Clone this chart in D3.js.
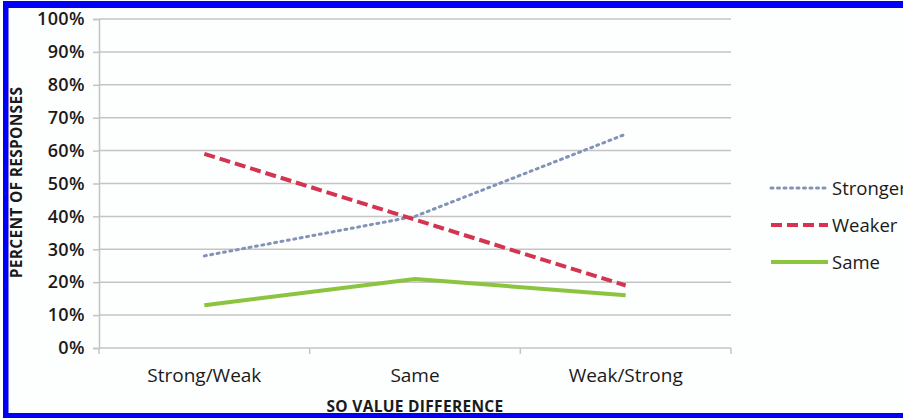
<!DOCTYPE html>
<html>
<head>
<meta charset="utf-8">
<script src="https://cdn.jsdelivr.net/npm/d3@7"></script>
<style>
  html, body { margin: 0; padding: 0; background: #fdfefe; }
  svg { display: block; }
  text { font-family: "Open Sans", "DejaVu Sans", sans-serif; fill: #1a1a1a; }
</style>
</head>
<body>
<svg id="chart" width="903" height="418"></svg>
<script>
// Response shares by SO value difference
const categories = ["Strong/Weak", "Same", "Weak/Strong"];
const stronger = [0.28, 0.40, 0.65];
const weaker = [0.59, 0.39, 0.19];
const same = [0.13, 0.21, 0.16];
const yTicks = [0, 0.1, 0.2, 0.3, 0.4, 0.5, 0.6, 0.7, 0.8, 0.9, 1.0];
const seriesNames = ["Stronger", "Weaker", "Same"];

const series = [
  { name: seriesNames[0], values: stronger, color: "#8393b8", width: 3, dash: "2,4.5", cap: "round" },
  { name: seriesNames[1], values: weaker, color: "#d3344f", width: 4, dash: "11,5", cap: "butt" },
  { name: seriesNames[2], values: same, color: "#8cc43f", width: 4, dash: null, cap: "butt" }
];

const svg = d3.select("#chart");
const W = 903, H = 418;
const plot = { left: 99, right: 731, top: 19, bottom: 348 };

// Frame
svg.append("rect").attr("x", 0).attr("y", 0).attr("width", W).attr("height", H).attr("fill", "#fdfefe");
svg.append("rect").attr("x", 3).attr("y", 1).attr("width", W - 3).attr("height", 7).attr("fill", "#0000f6");
svg.append("rect").attr("x", 3).attr("y", 1).attr("width", 5.5).attr("height", H - 1).attr("fill", "#0000f6");
svg.append("rect").attr("x", 3).attr("y", 413).attr("width", W - 3).attr("height", 5).attr("fill", "#0000f6");

const x = d3.scaleBand().domain(categories).range([plot.left, plot.right]).padding(0);
const y = d3.scaleLinear().domain([0, 1]).range([plot.bottom, plot.top]);

// Gridlines and y axis
const yAxis = d3.axisLeft(y).tickValues(yTicks).tickFormat(d3.format(".0%"))
  .tickSize(6).tickPadding(8);
const gy = svg.append("g").attr("transform", `translate(${plot.left},0)`).call(yAxis);
gy.select(".domain").attr("stroke", "#c4c4c4").attr("stroke-width", 1.5);
gy.selectAll(".tick line").attr("stroke", "#c4c4c4").attr("stroke-width", 1.5);
gy.selectAll(".tick text").attr("font-size", 18).attr("font-weight", 600)
  .attr("letter-spacing", 0.4)
  .attr("font-family", "'Open Sans', sans-serif").attr("fill", "#1a1a1a");

svg.append("g").selectAll("line").data(yTicks.filter(d => d > 0)).join("line")
  .attr("x1", plot.left).attr("x2", plot.right)
  .attr("y1", d => y(d)).attr("y2", d => y(d))
  .attr("stroke", "#c4c4c4").attr("stroke-width", 1.5);

// X axis with ticks at category boundaries
const gx = svg.append("g").attr("transform", `translate(0,${plot.bottom})`);
gx.append("line").attr("x1", plot.left).attr("x2", plot.right)
  .attr("stroke", "#c4c4c4").attr("stroke-width", 1.5);
const bounds = categories.map(c => x(c)).concat([x(categories[categories.length - 1]) + x.bandwidth()]);
gx.selectAll("line.tk").data(bounds).join("line").attr("class", "tk")
  .attr("x1", d => d).attr("x2", d => d).attr("y1", 0).attr("y2", 6)
  .attr("stroke", "#c4c4c4").attr("stroke-width", 1.5);
gx.selectAll("text").data(categories).join("text")
  .attr("x", d => x(d) + x.bandwidth() / 2).attr("y", 34)
  .attr("text-anchor", "middle").attr("font-size", 19).attr("font-weight", 500).text(d => d);

// Axis titles
svg.append("text").attr("x", x(categories[1]) + x.bandwidth() / 2).attr("y", 412)
  .attr("text-anchor", "middle").attr("font-size", 15.5).attr("font-weight", 700)
  .attr("letter-spacing", 0.3)
  .text("SO VALUE DIFFERENCE");
svg.append("text").attr("transform", `translate(22,${(85 + 280) / 2}) rotate(-90)`)
  .attr("text-anchor", "middle").attr("font-size", 15.5).attr("font-weight", 700)
  .attr("letter-spacing", 0.3)
  .text("PERCENT OF RESPONSES");

// Series lines
const line = d3.line().x((d, i) => x(categories[i]) + x.bandwidth() / 2).y(d => y(d));
svg.append("g").selectAll("path").data(series).join("path")
  .attr("d", s => line(s.values))
  .attr("fill", "none").attr("stroke", s => s.color).attr("stroke-width", s => s.width)
  .attr("stroke-dasharray", s => s.dash).attr("stroke-linecap", s => s.cap)
  .attr("stroke-linejoin", "round");

// Legend
const lg = svg.append("g").selectAll("g").data(series).join("g")
  .attr("transform", (s, i) => `translate(771,${188 + i * 37})`);
lg.append("line").attr("x1", 0).attr("x2", 57).attr("y1", 0).attr("y2", 0)
  .attr("stroke", s => s.color).attr("stroke-width", s => s.width)
  .attr("stroke-dasharray", s => s.dash).attr("stroke-linecap", s => s.cap);
lg.append("text").attr("x", 61).attr("y", 6.5).attr("font-size", 18.5).attr("font-weight", 500).text(s => s.name);
</script>
</body>
</html>
